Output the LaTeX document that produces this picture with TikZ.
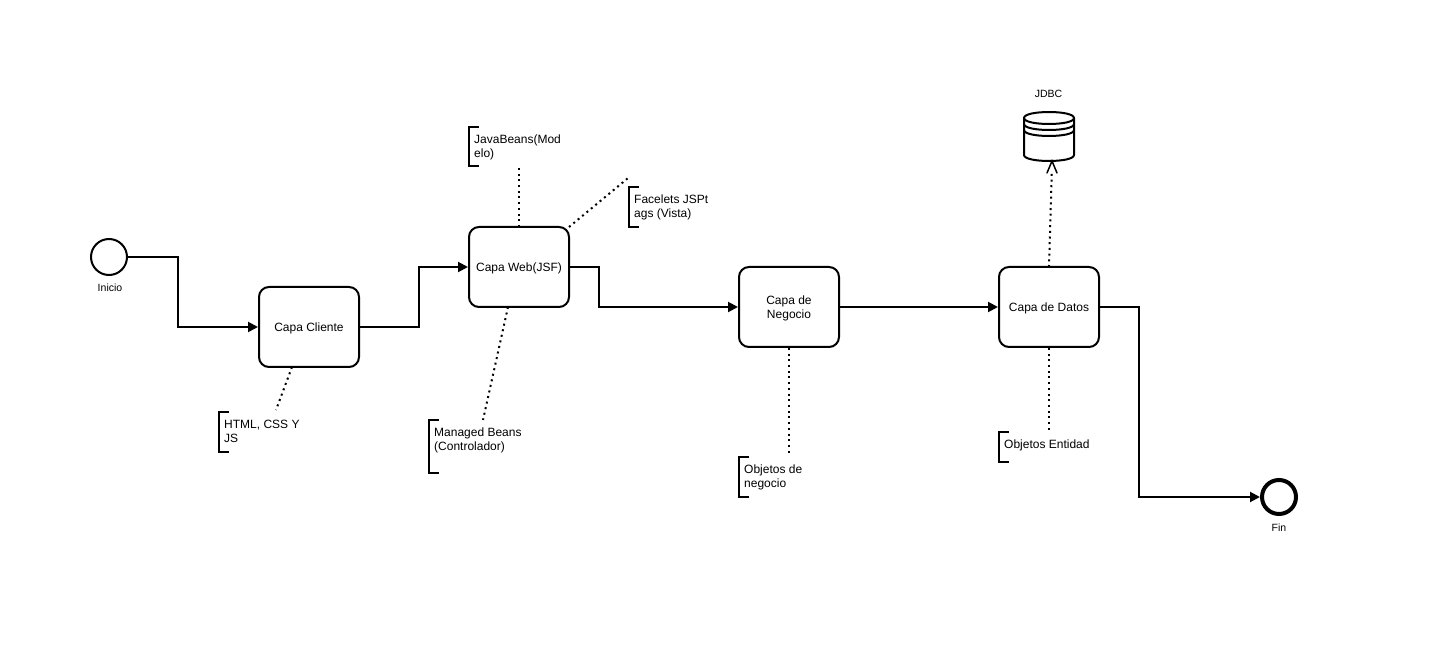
\documentclass[tikz,border=0pt]{standalone}
\usepackage{fontspec}
\setmainfont{Liberation Sans}
\usetikzlibrary{arrows.meta}
\tikzset{
  every node/.style={font=\fontsize{12}{14}\selectfont, text=black},
  ev/.style={circle, draw=black, line width=2pt, minimum size=36pt, inner sep=0pt, fill=white},
  evend/.style={circle, draw=black, line width=4pt, minimum size=34pt, inner sep=0pt, fill=white},
  captxt/.style={font=\fontsize{10.5}{12}\selectfont},
  taskbox/.style={rectangle, rounded corners=10pt, draw=black, line width=2pt, minimum width=100pt, minimum height=80pt, inner sep=2pt, align=center, fill=white},
  taskone/.style={taskbox, text height=11.5pt, text depth=3pt},
  flowline/.style={draw=black, line width=2pt, -{Triangle[length=10pt,width=10pt]}},
  assoc/.style={draw=black, line width=2pt, dash pattern=on 2pt off 3.7pt},
  notetxt/.style={anchor=north west, align=left, inner sep=0pt},
  brk/.style={draw=black, line width=2pt},
}
\newcommand{\annot}[6]{% name, x, ytop, height, textoffset, text
  \draw[brk] (#2+10,#3) -- (#2,#3) -- (#2,#3+#4) -- (#2+10,#3+#4);
  \node[notetxt] (#1) at (#2+5,#3+#5) {#6};
}
\begin{document}
\begin{tikzpicture}[x=1pt,y=-1pt]
\useasboundingbox[fill=white] (0,0) rectangle (1449,660);

\node[ev] (inicio) at (109,257) {};
\node[captxt] (inicioL) at (110,288) {Inicio};
\node[evend] (fin) at (1279,497) {};
\node[captxt] (finL) at (1279,528) {Fin};

\node[taskone] (cliente) at (309,327) {Capa Cliente};
\node[taskone] (web) at (519,267) {Capa Web(JSF)};
\node[taskbox] (negocio) at (789,307) {\rule{0pt}{11pt}Capa de\\Negocio};
\node[taskone] (datos) at (1049,307) {Capa de Datos};

% database
\node[captxt] (jdbcL) at (1048.5,94) {JDBC};
\node[minimum width=50pt, minimum height=49pt, inner sep=0pt] (db) at (1049,136.5) {};
\draw[draw=black, line width=2pt, fill=white]
  (1024,118) .. controls (1024,110) and (1074,110) .. (1074,118)
  -- (1074,155) .. controls (1074,163) and (1024,163) .. (1024,155) -- cycle;
\draw[draw=black, line width=2pt] (1024,118) .. controls (1024,126) and (1074,126) .. (1074,118);
\draw[draw=black, line width=2pt] (1024,124) .. controls (1024,132) and (1074,132) .. (1074,124);
\draw[draw=black, line width=2pt] (1024,130) .. controls (1024,138) and (1074,138) .. (1074,130);

% notes
\annot{nhtml}{219}{412}{40}{8}{HTML, CSS Y\\JS}
\annot{nmanaged}{429}{420}{53}{8}{Managed Beans\\(Controlador)}
\annot{njava}{469}{127}{39}{8}{JavaBeans(Mod\\elo)}
\annot{nface}{629}{187}{40}{8}{Facelets JSPt\\ags (Vista)}
\annot{nobj}{739}{457}{40}{8}{Objetos de\\negocio}
\annot{nent}{999}{432}{30}{8}{Objetos Entidad}

% free ends
\coordinate (c1) at (292,367);
\coordinate (c1e) at (276,410);
\coordinate (w1) at (519,227);
\coordinate (w1e) at (519,168);
\coordinate (w2) at (569,227);
\coordinate (w2e) at (627.5,178.5);
\coordinate (w3) at (508,307);
\coordinate (w3e) at (483,420);
\coordinate (n1e) at (789,455);
\coordinate (d1e) at (1049,432);
\coordinate (d2) at (1049,267);
\coordinate (dbb) at (1052,161);

% flows
\draw[flowline] (inicio.east) -- (178,257) -- (178,327) -- (cliente.west);
\draw[flowline] (cliente.east) -- (419,327) -- (419,267) -- (web.west);
\draw[flowline] (web.east) -- (599,267) -- (599,307) -- (negocio.west);
\draw[flowline] (negocio.east) -- (datos.west);
\draw[flowline] (datos.east) -- (1139,307) -- (1139,497) -- (fin.west);

% associations
\draw[assoc] (c1) -- (c1e);
\draw[assoc] (w1) -- (w1e);
\draw[assoc] (w2) -- (w2e);
\draw[assoc] (w3) -- (w3e);
\draw[assoc] (negocio.south) -- (n1e);
\draw[assoc] (datos.south) -- (d1e);
\draw[assoc] (d2) -- (1051.8,172);
\draw[draw=black, line width=1.5pt, line cap=round] (1047,173) -- (dbb) -- (1057,173);
\end{tikzpicture}
\end{document}
